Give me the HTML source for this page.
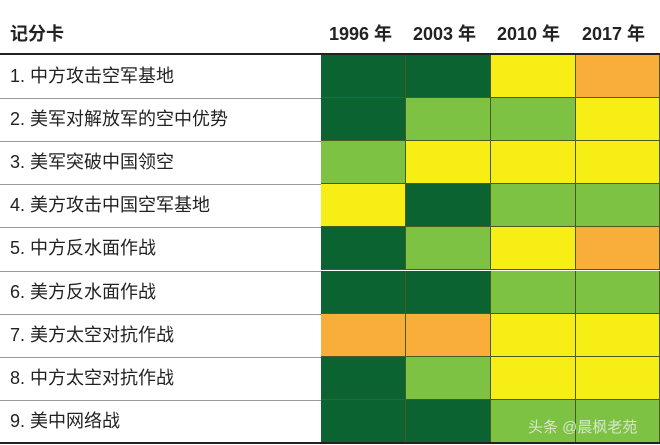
<!DOCTYPE html>
<html><head><meta charset="utf-8"><style>
body{margin:0;width:660px;height:445px;background:#fff;overflow:hidden;font-family:"Liberation Sans","Noto Sans CJK SC",sans-serif;position:relative}
.h{position:absolute;top:20px;font-size:18px;font-weight:bold;color:#222}
.topline{position:absolute;left:0;top:53px;width:660px;height:2px;background:#222}
.botline{position:absolute;left:0;top:442px;width:660px;height:2px;background:#222}
.row{position:absolute;left:0;width:660px;height:43px}
.lab{position:absolute;left:10px;top:0;line-height:43px;font-size:18px;color:#222}
.sep{position:absolute;left:0;width:321px;height:1px;background:#999}
.c{position:absolute;top:0;height:43px;width:85px;box-sizing:border-box;border-right:1px solid #4a5a20;border-bottom:1px solid #4a5a20}
.D{background:#0b6331}.L{background:#7dc242}.Y{background:#f7ee16}.O{background:#f9ad3a}
</style></head><body>
<div class="h" style="left:10px">记分卡</div>
<div class="h" style="left:329px">1996 年</div>
<div class="h" style="left:413px">2003 年</div>
<div class="h" style="left:497px">2010 年</div>
<div class="h" style="left:582px">2017 年</div>
<div class="topline"></div>
<div id="rows"></div>
<script>
var d=[["1. 中方攻击空军基地","DDYO"],["2. 美军对解放军的空中优势","DLLY"],["3. 美军突破中国领空","LYYY"],["4. 美方攻击中国空军基地","YDLL"],["5. 中方反水面作战","DLYO"],["6. 美方反水面作战","DDLL"],["7. 美方太空对抗作战","OOYY"],["8. 中方太空对抗作战","DLYY"],["9. 美中网络战","DDLL"]];
var h="";var xs=[321,406,491,576];
d.forEach(function(r,i){var t=55+i*43.1;h+='<div class="row" style="top:'+t+'px"><div class="lab">'+r[0]+'</div>';
for(var j=0;j<4;j++)h+='<div class="c '+r[1][j]+'" style="left:'+xs[j]+'px;'+(j==3?'width:84px;':'')+'"></div>';
h+='</div>';if(i>0)h+='<div class="sep" style="top:'+t+'px"></div>';});
document.getElementById("rows").innerHTML=h;
</script>
<div style="position:absolute;left:528px;top:416px;font-size:15px;color:#eee;opacity:.8">头条 @晨枫老苑</div>
<div class="botline"></div>
</body></html>
